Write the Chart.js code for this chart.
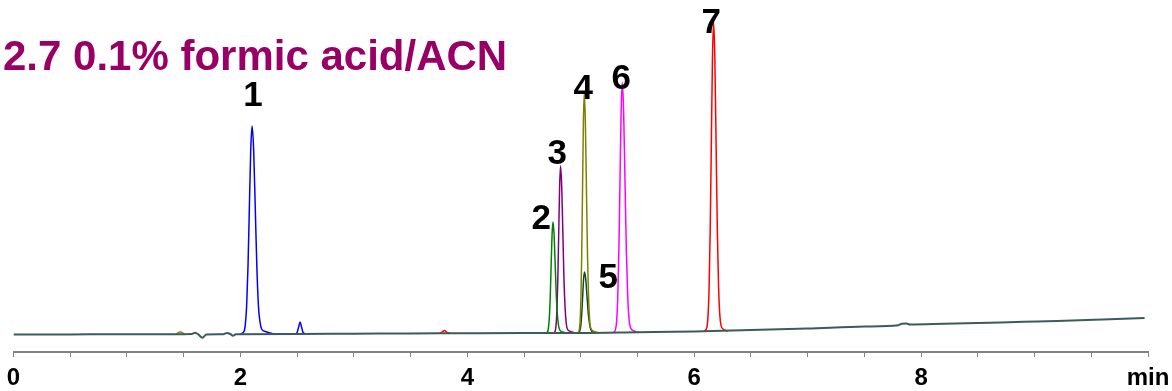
<!DOCTYPE html>
<html>
<head>
<meta charset="utf-8">
<script src="https://cdn.jsdelivr.net/npm/chart.js@4.4.0/dist/chart.umd.min.js"></script>
<style>
html,body{margin:0;padding:0;background:#fff;}
#wrap{width:1172px;height:391px;position:relative;}
</style>
</head>
<body>
<div id="wrap"><canvas id="c" width="1172" height="391"></canvas></div>
<script>
// ---- data (time in min, detector response in arbitrary units) ----
const titleText = '2.7 0.1% formic acid/ACN';
const tickValues = [0, 2, 4, 6, 8, 10];
const tickTexts = ['0', '2', '4', '6', '8', 'min'];

const baselineTrace = [[0,17.5],[0.5,17.6],[1.0,17.7],[1.4,17.8],[1.57,18],[1.6,19.3],[1.63,17.5],[1.665,14.2],[1.7,17.5],[1.85,17.8],[1.88,19],[1.91,18],[1.935,16.2],[1.96,17.8],[2.5,18],[3.0,18.3],[3.5,18.5],[4.0,18.8],[4.5,19],[5.0,19],[5.5,19.7],[6.0,20.5],[6.5,22],[7.0,23.5],[7.5,25.5],[7.8,26.8],[7.83,28.3],[7.87,28.5],[7.9,27.5],[8.2,28.2],[8.5,29],[8.9,30.2],[9.2,31],[9.6,32.5],[9.97,34]];

const blueTrace = [[2.0,18],[2.031,20.3],[2.043,27.2],[2.055,46],[2.067,85.6],[2.079,144],[2.091,201.5],[2.103,226],[2.117,201.5],[2.131,144],[2.145,85.6],[2.159,46],[2.173,30],[2.187,23],[2.22,20.5],[2.26,19],[2.3,18],[2.48,18],[2.5,19.5],[2.513,25],[2.526,30],[2.539,25],[2.552,19.5],[2.575,18]];

const greenTrace = [[4.69,19],[4.707,20.2],[4.715,23.9],[4.723,34],[4.731,55],[4.739,86.4],[4.747,116.9],[4.755,130],[4.765,116.9],[4.775,86.4],[4.785,55],[4.795,36],[4.805,26],[4.815,22],[4.84,20],[4.87,19]];

const purpleTrace = [[4.76,19],[4.774,20.8],[4.782,26.3],[4.79,41.5],[4.798,73.3],[4.806,120.4],[4.814,166.3],[4.822,186],[4.832,166.3],[4.842,120.4],[4.852,73.3],[4.862,44.5],[4.872,29],[4.882,23],[4.91,20.5],[4.95,19]];

const oliveTrace = [[1.43,17.8],[1.47,20],[1.51,17.8],[1.52,null],[4.97,19],[4.986,21.6],[4.9935,29.6],[5.001,51.4],[5.0085,97],[5.016,164.7],[5.0235,230.7],[5.031,259],[5.0405,230.7],[5.05,164.7],[5.0595,97],[5.069,54.4],[5.0785,32],[5.088,24],[5.12,20.5],[5.16,19]];

const darkGreenTrace = [[4.97,19],[4.985,19.7],[4.993,21.7],[5.001,27.2],[5.009,38.8],[5.017,56],[5.025,72.8],[5.033,80],[5.044,72.8],[5.055,56],[5.066,38.8],[5.077,28.7],[5.088,22.7],[5.099,20.5],[5.13,19]];

const magentaTrace = [[5.29,19.5],[5.306,22.3],[5.316,30.5],[5.326,53.3],[5.336,100.8],[5.346,171.3],[5.356,240],[5.366,269.5],[5.378,240],[5.39,171.3],[5.402,100.8],[5.414,56.3],[5.426,32.5],[5.438,24.5],[5.47,21],[5.51,19.5]];

const redTrace = [[3.76,18.5],[3.79,21],[3.80,21.5],[3.82,19.5],[3.85,18.5],[3.86,null],[6.09,21],[6.111,24.4],[6.121,34.6],[6.131,62.7],[6.141,121.4],[6.151,208.6],[6.161,293.5],[6.171,330],[6.182,293.5],[6.193,208.6],[6.204,121.4],[6.215,64.7],[6.226,36.6],[6.237,26.4],[6.26,22.5],[6.3,21]];

// peak number labels (anchor in data units: time, response)
const peakNames = ['1', '2', '3', '4', '5', '6', '7'];
const peakLabelX = [2.112, 4.652, 4.793, 5.022, 5.242, 5.357, 6.151];
const peakLabelY = [259, 136, 201, 266, 77, 276, 332];

// ---- chart ----
const toXY = arr => arr.map(p => ({x: p[0], y: p[1]}));
function ds(arr, color, width) {
  return {
    data: toXY(arr), borderColor: color, borderWidth: width, pointRadius: 0,
    cubicInterpolationMode: 'monotone', spanGaps: false, fill: false
  };
}

const labelPlugin = {
  id: 'labels',
  afterDatasetsDraw(chart) {
    const ctx = chart.ctx, xs = chart.scales.x, ys = chart.scales.y;
    ctx.save();
    ctx.fillStyle = '#990066';
    ctx.font = 'bold 42px "Liberation Sans", Arial, sans-serif';
    ctx.textAlign = 'left';
    ctx.textBaseline = 'alphabetic';
    ctx.fillText(titleText, 3, 70);
    ctx.fillStyle = '#000';
    ctx.font = 'bold 35px "Liberation Sans", Arial, sans-serif';
    ctx.textAlign = 'center';
    for (let i = 0; i < peakNames.length; i++) {
      const px = xs.getPixelForValue(peakLabelX[i]);
      const py = ys.getPixelForValue(peakLabelY[i]);
      ctx.fillText(peakNames[i], px, py + 12.5);
    }
    ctx.restore();
  }
};

new Chart(document.getElementById('c'), {
  type: 'line',
  data: {
    datasets: [
      ds(baselineTrace, '#3b5c5a', 2),
      ds(blueTrace, '#0000ff', 1.5),
      ds(greenTrace, '#008000', 1.5),
      ds(purpleTrace, '#800080', 1.5),
      ds(oliveTrace, '#808000', 1.5),
      ds(darkGreenTrace, '#0a4a28', 1.5),
      ds(magentaTrace, '#ff00ff', 1.5),
      ds(redTrace, '#ff0000', 1.5)
    ]
  },
  options: {
    responsive: false,
    animation: false,
    devicePixelRatio: 1,
    layout: {padding: {left: 13.5, right: 24, top: 0, bottom: 0}},
    plugins: {legend: {display: false}, tooltip: {enabled: false}, title: {display: false}},
    scales: {
      x: {
        type: 'linear', min: 0, max: 10,
        afterFit(scale) { scale.height = 39; scale.paddingLeft = 0; scale.paddingRight = 0; },
        afterBuildTicks(scale) {
          const t = [];
          for (let i = 0; i <= 20; i++) t.push({value: i * 0.5});
          scale.ticks = t;
        },
        ticks: {
          autoSkip: false, maxRotation: 0, minRotation: 0, padding: 7,
          color: '#000',
          font: {family: '"Liberation Sans", Arial, sans-serif', weight: 'bold', size: 24},
          callback(v) {
            const k = tickValues.indexOf(v);
            return k >= 0 ? tickTexts[k] : '';
          }
        },
        grid: {display: true, drawOnChartArea: false, drawTicks: true, tickLength: 5, color: '#808080', lineWidth: 1},
        border: {display: true, color: '#808080', width: 2}
      },
      y: {type: 'linear', min: 0, max: 352, display: false}
    }
  },
  plugins: [labelPlugin]
});
</script>
</body>
</html>
